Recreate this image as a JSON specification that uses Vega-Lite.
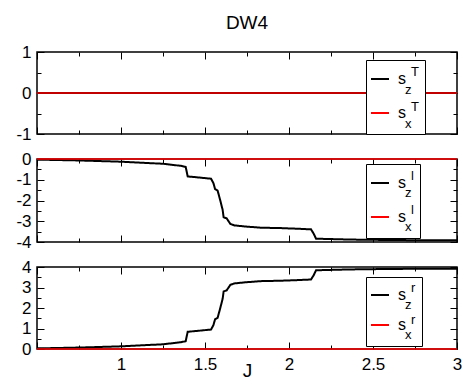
{
  "$schema": "https://vega.github.io/schema/vega-lite/v6.json",
  "padding": {"left": 15, "top": 14, "right": 5, "bottom": 0},
  "title": {"text": "DW4", "fontSize": 19, "font": "Liberation Sans, Roboto, sans-serif", "fontWeight": "normal", "anchor": "middle", "frame": "group", "color": "black", "offset": 9},
  "datasets": {
    "d": [
      {"p": "T", "c": "z", "J": 0.5, "v": 0},
      {"p": "T", "c": "z", "J": 3.0, "v": 0},
      {"p": "T", "c": "x", "J": 0.5, "v": 0},
      {"p": "T", "c": "x", "J": 3.0, "v": 0},
      {"p": "l", "c": "z", "J": 0.5, "v": -0.03},
      {"p": "l", "c": "z", "J": 0.75, "v": -0.07},
      {"p": "l", "c": "z", "J": 1.0, "v": -0.13},
      {"p": "l", "c": "z", "J": 1.25, "v": -0.23},
      {"p": "l", "c": "z", "J": 1.357, "v": -0.33},
      {"p": "l", "c": "z", "J": 1.385, "v": -0.38},
      {"p": "l", "c": "z", "J": 1.397, "v": -0.84},
      {"p": "l", "c": "z", "J": 1.45, "v": -0.88},
      {"p": "l", "c": "z", "J": 1.536, "v": -0.95},
      {"p": "l", "c": "z", "J": 1.55, "v": -1.16},
      {"p": "l", "c": "z", "J": 1.56, "v": -1.45},
      {"p": "l", "c": "z", "J": 1.575, "v": -1.52},
      {"p": "l", "c": "z", "J": 1.59, "v": -1.97},
      {"p": "l", "c": "z", "J": 1.605, "v": -2.45},
      {"p": "l", "c": "z", "J": 1.611, "v": -2.81},
      {"p": "l", "c": "z", "J": 1.629, "v": -2.86},
      {"p": "l", "c": "z", "J": 1.651, "v": -3.13},
      {"p": "l", "c": "z", "J": 1.675, "v": -3.2},
      {"p": "l", "c": "z", "J": 1.75, "v": -3.26},
      {"p": "l", "c": "z", "J": 1.833, "v": -3.31},
      {"p": "l", "c": "z", "J": 1.95, "v": -3.33},
      {"p": "l", "c": "z", "J": 2.05, "v": -3.36},
      {"p": "l", "c": "z", "J": 2.131, "v": -3.39},
      {"p": "l", "c": "z", "J": 2.147, "v": -3.6},
      {"p": "l", "c": "z", "J": 2.161, "v": -3.84},
      {"p": "l", "c": "z", "J": 2.3, "v": -3.87},
      {"p": "l", "c": "z", "J": 2.43, "v": -3.89},
      {"p": "l", "c": "z", "J": 2.7, "v": -3.91},
      {"p": "l", "c": "z", "J": 3.0, "v": -3.92},
      {"p": "l", "c": "x", "J": 0.5, "v": 0},
      {"p": "l", "c": "x", "J": 3.0, "v": 0},
      {"p": "r", "c": "z", "J": 0.5, "v": 0.03},
      {"p": "r", "c": "z", "J": 0.75, "v": 0.07},
      {"p": "r", "c": "z", "J": 1.0, "v": 0.13},
      {"p": "r", "c": "z", "J": 1.25, "v": 0.23},
      {"p": "r", "c": "z", "J": 1.357, "v": 0.33},
      {"p": "r", "c": "z", "J": 1.385, "v": 0.38},
      {"p": "r", "c": "z", "J": 1.397, "v": 0.84},
      {"p": "r", "c": "z", "J": 1.45, "v": 0.88},
      {"p": "r", "c": "z", "J": 1.536, "v": 0.95},
      {"p": "r", "c": "z", "J": 1.55, "v": 1.16},
      {"p": "r", "c": "z", "J": 1.56, "v": 1.45},
      {"p": "r", "c": "z", "J": 1.575, "v": 1.52},
      {"p": "r", "c": "z", "J": 1.59, "v": 1.97},
      {"p": "r", "c": "z", "J": 1.605, "v": 2.45},
      {"p": "r", "c": "z", "J": 1.611, "v": 2.81},
      {"p": "r", "c": "z", "J": 1.629, "v": 2.86},
      {"p": "r", "c": "z", "J": 1.651, "v": 3.13},
      {"p": "r", "c": "z", "J": 1.675, "v": 3.2},
      {"p": "r", "c": "z", "J": 1.75, "v": 3.26},
      {"p": "r", "c": "z", "J": 1.833, "v": 3.31},
      {"p": "r", "c": "z", "J": 1.95, "v": 3.33},
      {"p": "r", "c": "z", "J": 2.05, "v": 3.36},
      {"p": "r", "c": "z", "J": 2.131, "v": 3.39},
      {"p": "r", "c": "z", "J": 2.147, "v": 3.6},
      {"p": "r", "c": "z", "J": 2.161, "v": 3.84},
      {"p": "r", "c": "z", "J": 2.3, "v": 3.87},
      {"p": "r", "c": "z", "J": 2.43, "v": 3.89},
      {"p": "r", "c": "z", "J": 2.7, "v": 3.91},
      {"p": "r", "c": "z", "J": 3.0, "v": 3.92},
      {"p": "r", "c": "x", "J": 0.5, "v": 0},
      {"p": "r", "c": "x", "J": 3.0, "v": 0}
    ]
  },
  "data": {"name": "d"},
  "spacing": 25,
  "bounds": "flush",
  "vconcat": [
    {
      "width": 420, "height": 82,
      "transform": [{"filter": "datum.p == 'T'"}],
      "layer": [
        {
          "encoding": {
            "x": {"field": "J", "type": "quantitative", "scale": {"domain": [0.5, 3], "nice": false, "zero": false},
                  "axis": {"orient": "bottom", "values": [0.5, 0.75, 1, 1.25, 1.5, 1.75, 2, 2.25, 2.5, 2.75, 3], "labels": false, "title": null,
                           "tickSize": {"condition": {"test": "datum.value % 0.5 == 0", "value": -7}, "value": -4}}},
            "y": {"field": "v", "type": "quantitative", "scale": {"domain": [-1, 1], "nice": false, "zero": false},
                  "axis": {"orient": "left", "values": [-1, -0.5, 0, 0.5, 1], "title": null,
                           "labelExpr": "datum.value % 1 == 0 ? '' + datum.value : ''",
                           "tickSize": {"condition": {"test": "datum.value % 1 == 0", "value": -7}, "value": -4}}},
            "color": {"field": "c", "type": "nominal", "scale": {"domain": ["z", "x"], "range": ["black", "red"]},
                      "legend": {"title": null, "orient": "none", "legendX": 333, "legendY": 10, "labelExpr": "'s'",
                                 "symbolType": "stroke", "symbolStrokeWidth": 2, "symbolSize": 324, "labelFontSize": 16, "labelOffset": 8,
                                 "clipHeight": 34, "rowPadding": 0, "padding": 0, "zindex": 2}},
            "strokeDash": {"field": "c", "type": "nominal", "scale": {"domain": ["z", "x", "-"], "range": [[1, 0], [1, 0], [1, 0]]},
                      "legend": {"title": null, "orient": "none", "legendX": 355, "legendY": 21, "values": ["z", "x"],
                                 "symbolOpacity": 0, "symbolSize": 0, "symbolStrokeWidth": 0, "labelOffset": 0, "labelFontSize": 13,
                                 "clipHeight": 34, "rowPadding": 0, "padding": 0, "zindex": 2}}
          },
          "layer": [
            {"transform": [{"filter": "datum.c == 'z'"}], "mark": {"type": "line", "strokeWidth": 2, "clip": false}},
            {"transform": [{"filter": "datum.c == 'x'"}], "mark": {"type": "line", "strokeWidth": 1.5, "clip": false}}
          ]
        },
        {
          "mark": {"type": "point", "opacity": 0},
          "encoding": {
            "x": {"field": "J", "type": "quantitative", "scale": {"domain": [0.5, 3], "nice": false, "zero": false},
                  "axis": {"orient": "top", "values": [0.5, 0.75, 1, 1.25, 1.5, 1.75, 2, 2.25, 2.5, 2.75, 3], "labels": false, "title": null,
                           "tickSize": {"condition": {"test": "datum.value % 0.5 == 0", "value": -7}, "value": -4}}},
            "y": {"field": "v", "type": "quantitative", "scale": {"domain": [-1, 1], "nice": false, "zero": false},
                  "axis": {"orient": "right", "values": [-1, -0.5, 0, 0.5, 1], "labels": false, "title": null,
                           "tickSize": {"condition": {"test": "datum.value % 1 == 0", "value": -7}, "value": -4}}},
            "shape": {"field": "c", "type": "nominal", "scale": {"domain": ["z", "x", "--"], "range": ["circle", "circle", "circle"]},
                      "legend": {"title": null, "orient": "none", "legendX": 329, "legendY": 8, "values": ["z", "x"], "labelExpr": "'T'",
                                 "symbolOpacity": 0, "symbolSize": 0, "symbolStrokeWidth": 0, "labelOffset": 26, "labelFontSize": 13,
                                 "labelBaseline": "line-bottom", "clipHeight": 27, "rowPadding": 7, "padding": 6,
                                 "strokeColor": "black", "fillColor": "white", "zindex": 1}}
          }
        }
      ],
      "resolve": {"scale": {"x": "independent", "y": "independent"}}
    },
    {
      "width": 420, "height": 83,
      "transform": [{"filter": "datum.p == 'l'"}],
      "layer": [
        {
          "encoding": {
            "x": {"field": "J", "type": "quantitative", "scale": {"domain": [0.5, 3], "nice": false, "zero": false},
                  "axis": {"orient": "bottom", "values": [0.5, 0.75, 1, 1.25, 1.5, 1.75, 2, 2.25, 2.5, 2.75, 3], "labels": false, "title": null,
                           "tickSize": {"condition": {"test": "datum.value % 0.5 == 0", "value": -7}, "value": -4}}},
            "y": {"field": "v", "type": "quantitative", "scale": {"domain": [-4, 0], "nice": false, "zero": false},
                  "axis": {"orient": "left", "values": [-4, -3.5, -3, -2.5, -2, -1.5, -1, -0.5, 0], "title": null,
                           "labelExpr": "datum.value % 1 == 0 ? '' + datum.value : ''",
                           "tickSize": {"condition": {"test": "datum.value % 1 == 0", "value": -7}, "value": -4}}},
            "color": {"field": "c", "type": "nominal", "scale": {"domain": ["z", "x"], "range": ["black", "red"]},
                      "legend": {"title": null, "orient": "none", "legendX": 333, "legendY": 7, "labelExpr": "'s'",
                                 "symbolType": "stroke", "symbolStrokeWidth": 2, "symbolSize": 324, "labelFontSize": 16, "labelOffset": 8,
                                 "clipHeight": 34, "rowPadding": 0, "padding": 0, "zindex": 2}},
            "strokeDash": {"field": "c", "type": "nominal", "scale": {"domain": ["z", "x", "-"], "range": [[1, 0], [1, 0], [1, 0]]},
                      "legend": {"title": null, "orient": "none", "legendX": 355, "legendY": 17, "values": ["z", "x"],
                                 "symbolOpacity": 0, "symbolSize": 0, "symbolStrokeWidth": 0, "labelOffset": 0, "labelFontSize": 13,
                                 "clipHeight": 34, "rowPadding": 0, "padding": 0, "zindex": 2}}
          },
          "layer": [
            {"transform": [{"filter": "datum.c == 'z'"}], "mark": {"type": "line", "strokeWidth": 2, "clip": false}},
            {"transform": [{"filter": "datum.c == 'x'"}], "mark": {"type": "line", "strokeWidth": 1.5, "clip": false}}
          ]
        },
        {
          "mark": {"type": "point", "opacity": 0},
          "encoding": {
            "x": {"field": "J", "type": "quantitative", "scale": {"domain": [0.5, 3], "nice": false, "zero": false},
                  "axis": {"orient": "top", "values": [0.5, 0.75, 1, 1.25, 1.5, 1.75, 2, 2.25, 2.5, 2.75, 3], "labels": false, "title": null,
                           "tickSize": {"condition": {"test": "datum.value % 0.5 == 0", "value": -7}, "value": -4}}},
            "y": {"field": "v", "type": "quantitative", "scale": {"domain": [-4, 0], "nice": false, "zero": false},
                  "axis": {"orient": "right", "values": [-4, -3.5, -3, -2.5, -2, -1.5, -1, -0.5, 0], "labels": false, "title": null,
                           "tickSize": {"condition": {"test": "datum.value % 1 == 0", "value": -7}, "value": -4}}},
            "shape": {"field": "c", "type": "nominal", "scale": {"domain": ["z", "x", "--"], "range": ["circle", "circle", "circle"]},
                      "legend": {"title": null, "orient": "none", "legendX": 329, "legendY": 5, "values": ["z", "x"], "labelExpr": "'l'",
                                 "symbolOpacity": 0, "symbolSize": 0, "symbolStrokeWidth": 0, "labelOffset": 26, "labelFontSize": 13,
                                 "labelBaseline": "line-bottom", "clipHeight": 28, "rowPadding": 6, "padding": 6,
                                 "strokeColor": "black", "fillColor": "white", "zindex": 1}}
          }
        }
      ],
      "resolve": {"scale": {"x": "independent", "y": "independent"}}
    },
    {
      "width": 420, "height": 82,
      "transform": [{"filter": "datum.p == 'r'"}],
      "layer": [
        {
          "encoding": {
            "x": {"field": "J", "type": "quantitative", "scale": {"domain": [0.5, 3], "nice": false, "zero": false},
                  "axis": {"orient": "bottom", "values": [0.5, 0.75, 1, 1.25, 1.5, 1.75, 2, 2.25, 2.5, 2.75, 3], "title": "J", "titlePadding": -14,
                           "labelExpr": "datum.value >= 1 && datum.value % 0.5 == 0 ? '' + datum.value : ''",
                           "tickSize": {"condition": {"test": "datum.value % 0.5 == 0", "value": -7}, "value": -4}}},
            "y": {"field": "v", "type": "quantitative", "scale": {"domain": [0, 4], "nice": false, "zero": false},
                  "axis": {"orient": "left", "values": [0, 0.5, 1, 1.5, 2, 2.5, 3, 3.5, 4], "title": null,
                           "labelExpr": "datum.value % 1 == 0 ? '' + datum.value : ''",
                           "tickSize": {"condition": {"test": "datum.value % 1 == 0", "value": -7}, "value": -4}}},
            "color": {"field": "c", "type": "nominal", "scale": {"domain": ["z", "x"], "range": ["black", "red"]},
                      "legend": {"title": null, "orient": "none", "legendX": 333, "legendY": 13, "labelExpr": "'s'",
                                 "symbolType": "stroke", "symbolStrokeWidth": 2, "symbolSize": 324, "labelFontSize": 16, "labelOffset": 8,
                                 "clipHeight": 30, "rowPadding": 0, "padding": 0, "zindex": 2}},
            "strokeDash": {"field": "c", "type": "nominal", "scale": {"domain": ["z", "x", "-"], "range": [[1, 0], [1, 0], [1, 0]]},
                      "legend": {"title": null, "orient": "none", "legendX": 355, "legendY": 23, "values": ["z", "x"],
                                 "symbolOpacity": 0, "symbolSize": 0, "symbolStrokeWidth": 0, "labelOffset": 0, "labelFontSize": 13,
                                 "clipHeight": 30, "rowPadding": 0, "padding": 0, "zindex": 2}}
          },
          "layer": [
            {"transform": [{"filter": "datum.c == 'z'"}], "mark": {"type": "line", "strokeWidth": 2, "clip": false}},
            {"transform": [{"filter": "datum.c == 'x'"}], "mark": {"type": "line", "strokeWidth": 1.5, "clip": false}}
          ]
        },
        {
          "mark": {"type": "point", "opacity": 0},
          "encoding": {
            "x": {"field": "J", "type": "quantitative", "scale": {"domain": [0.5, 3], "nice": false, "zero": false},
                  "axis": {"orient": "top", "values": [0.5, 0.75, 1, 1.25, 1.5, 1.75, 2, 2.25, 2.5, 2.75, 3], "labels": false, "title": null,
                           "tickSize": {"condition": {"test": "datum.value % 0.5 == 0", "value": -7}, "value": -4}}},
            "y": {"field": "v", "type": "quantitative", "scale": {"domain": [0, 4], "nice": false, "zero": false},
                  "axis": {"orient": "right", "values": [0, 0.5, 1, 1.5, 2, 2.5, 3, 3.5, 4], "labels": false, "title": null,
                           "tickSize": {"condition": {"test": "datum.value % 1 == 0", "value": -7}, "value": -4}}},
            "shape": {"field": "c", "type": "nominal", "scale": {"domain": ["z", "x", "--"], "range": ["circle", "circle", "circle"]},
                      "legend": {"title": null, "orient": "none", "legendX": 329, "legendY": 10, "values": ["z", "x"], "labelExpr": "'r'",
                                 "symbolOpacity": 0, "symbolSize": 0, "symbolStrokeWidth": 0, "labelOffset": 26, "labelFontSize": 13,
                                 "labelBaseline": "line-bottom", "clipHeight": 25, "rowPadding": 5, "padding": 6,
                                 "strokeColor": "black", "fillColor": "white", "zindex": 1}}
          }
        }
      ],
      "resolve": {"scale": {"x": "independent", "y": "independent"}}
    }
  ],
  "resolve": {
    "scale": {"color": "independent", "strokeDash": "independent", "shape": "independent"},
    "legend": {"color": "independent", "strokeDash": "independent", "shape": "independent"}
  },
  "config": {
    "font": "Liberation Sans, Roboto, sans-serif",
    "view": {"stroke": "black", "strokeWidth": 1.5},
    "axis": {"domain": false, "grid": false, "tickColor": "black", "tickWidth": 1, "labelColor": "black", "labelFontSize": 17,
             "labelFont": "Liberation Sans, Roboto, sans-serif", "labelFlush": false, "labelOverlap": false,
             "titleFont": "Liberation Sans, Roboto, sans-serif", "titleFontSize": 19, "titleFontWeight": "normal", "titleColor": "black"},
    "axisX": {"labelPadding": 14},
    "axisY": {"labelPadding": 13},
    "legend": {"labelFont": "Liberation Sans, Roboto, sans-serif", "labelColor": "black", "labelLimit": 200}
  }
}
